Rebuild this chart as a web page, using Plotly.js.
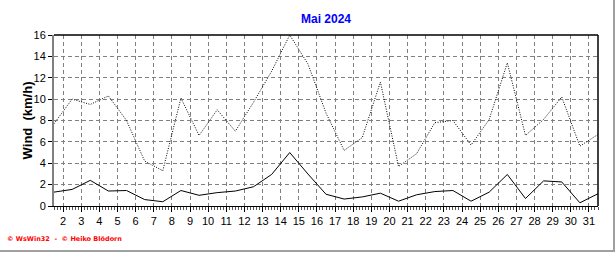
<!DOCTYPE html>
<html>
<head>
<meta charset="utf-8">
<script src="https://cdn.plot.ly/plotly-3.0.1.min.js"></script>
<style>
  html, body { margin: 0; padding: 0; background: #ffffff; }
  #wrap { position: relative; width: 616px; height: 253px; overflow: hidden; }
  #chart { position: absolute; left: 0; top: 0; width: 616px; height: 253px; }
  #frameR { position: absolute; left: 613px; top: 0; width: 2px; height: 252px; background: #a0a0a0; }
  #frameB { position: absolute; left: 0; top: 250px; width: 615px; height: 2px; background: #a0a0a0; }
</style>
</head>
<body>
<div id="wrap">
  <div id="chart"></div>
  <div id="frameR"></div>
  <div id="frameB"></div>
</div>
<script>
// Days of May 2024 (values are daily, drawn at midday)
const days = [1,2,3,4,5,6,7,8,9,10,11,12,13,14,15,16,17,18,19,20,21,22,23,24,25,26,27,28,29,30,31];

// Maximum wind (dotted line), km/h
const windMax = [7.7,10.0,9.5,10.3,8.0,4.2,3.3,10.1,6.6,9.0,7.0,9.7,12.6,16.0,13.3,8.7,5.2,6.4,11.6,3.7,4.9,7.8,8.0,5.7,8.1,13.4,6.6,8.1,10.2,5.6,6.7];

// Mean wind (solid line), km/h
const windMean = [1.3,1.55,2.4,1.4,1.45,0.6,0.4,1.45,1.0,1.25,1.4,1.8,2.95,5.0,3.0,1.1,0.65,0.85,1.2,0.45,1.05,1.35,1.45,0.45,1.3,2.95,0.7,2.35,2.25,0.3,1.15];

const xTickVals = [2,3,4,5,6,7,8,9,10,11,12,13,14,15,16,17,18,19,20,21,22,23,24,25,26,27,28,29,30,31];
const xTickText = xTickVals.map(String);
const yTickVals = [0,2,4,6,8,10,12,14,16];

const xPos = days.map(d => d + 0.5);

const traces = [
  { x: xPos, y: windMax, type: 'scatter', mode: 'lines',
    line: { color: '#000000', width: 1, dash: '1px,1.5px' }, hoverinfo: 'skip' },
  { x: xPos, y: windMean, type: 'scatter', mode: 'lines',
    line: { color: '#000000', width: 1 }, hoverinfo: 'skip' }
];

const font = 'Liberation Sans, Arial, sans-serif';

const layout = {
  width: 616, height: 253,
  margin: { l: 54, r: 18, t: 35, b: 47, pad: 0 },
  paper_bgcolor: '#ffffff', plot_bgcolor: '#ffffff',
  showlegend: false,
  font: { family: font, size: 11, color: '#000000' },
  title: { text: '<b>Mai 2024</b>', font: { family: font, size: 12, color: '#0000ff' },
           x: 0.5, xref: 'paper', xanchor: 'center', y: 0.925, yref: 'container', yanchor: 'middle' },
  xaxis: {
    range: [1.5, 31.5], tickmode: 'array', tickvals: xTickVals, ticktext: xTickText,
    showgrid: true, gridcolor: '#808080', gridwidth: 1, griddash: '4px,3px',
    zeroline: false, showline: true, linecolor: '#000000', linewidth: 1,
    ticks: 'outside', ticklen: 5, tickcolor: '#000000', tickwidth: 1,
    tickfont: { family: font, size: 11, color: '#000000' },
    minor: { tick0: 0, dtick: 1/6, ticks: 'outside', ticklen: 3, tickcolor: '#555555', tickwidth: 1, showgrid: false },
    fixedrange: true
  },
  yaxis: {
    range: [0, 16], tickmode: 'array', tickvals: yTickVals,
    showgrid: true, gridcolor: '#808080', gridwidth: 1, griddash: '4px,3px',
    zeroline: false, showline: true, linecolor: '#808080', linewidth: 2,
    ticks: 'outside', ticklen: 4, tickcolor: '#000000', tickwidth: 1,
    tickfont: { family: font, size: 11, color: '#000000' },
    fixedrange: true
  },
  shapes: [
    { type: 'line', xref: 'paper', yref: 'paper', x0: 0, x1: 1, y0: 1, y1: 1, line: { color: '#000000', width: 1.5 } },
    { type: 'line', xref: 'paper', yref: 'paper', x0: 1, x1: 1, y0: 0, y1: 1, line: { color: '#000000', width: 1.5 } }
  ],
  annotations: [
    { text: '<b>Wind  (km/h)</b>', xref: 'paper', yref: 'paper', x: -0.048, y: 0.5,
      xanchor: 'center', yanchor: 'middle', textangle: -90, showarrow: false,
      font: { family: font, size: 13, color: '#000000' } },
    { text: '<b>© WsWin32  -  © Heiko Blödorn</b>', xref: 'paper', yref: 'paper',
      x: -0.09, y: -0.195, xanchor: 'left', yanchor: 'middle', showarrow: false,
      font: { family: 'DejaVu Sans, sans-serif', size: 6.5, color: '#ff0000' } }
  ]
};

Plotly.newPlot('chart', traces, layout, { displayModeBar: false, staticPlot: true });
</script>
</body>
</html>
